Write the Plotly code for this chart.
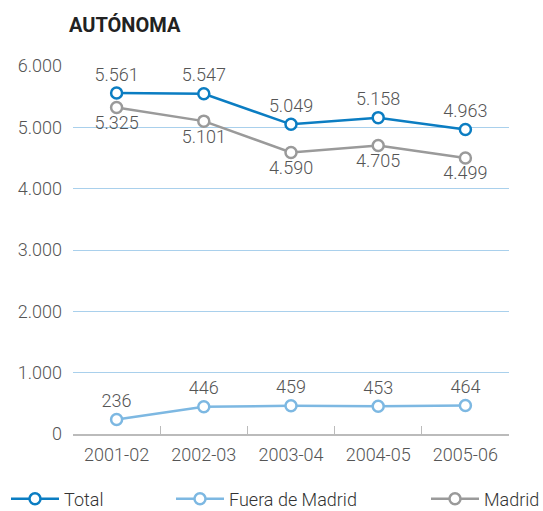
import plotly.graph_objects as go

years = ["2001-02", "2002-03", "2003-04", "2004-05", "2005-06"]
total = [5561, 5547, 5049, 5158, 4963]
fuera = [236, 446, 459, 453, 464]
madrid = [5325, 5101, 4590, 4705, 4499]

y_ticks = [0, 1000, 2000, 3000, 4000, 5000, 6000]
y_tick_labels = ["0", "1.000", "2.000", "3.000", "4.000", "5.000", "6.000"]


def fmt(v):
    return f"{v:,}".replace(",", ".")


FONT = "Roboto"
TXT = "#555555"


def series(name, values, color, pos, legend):
    return go.Scatter(
        x=years,
        y=values,
        name=name,
        mode="lines+markers+text",
        text=[fmt(v) for v in values],
        textposition=pos,
        textfont=dict(family=FONT, size=18, color=TXT, weight=300),
        line=dict(color=color, width=2.5),
        marker=dict(size=11, color="white", line=dict(color=color, width=2.5)),
        cliponaxis=False,
        legend=legend,
        showlegend=True,
    )


fig = go.Figure()
fig.add_trace(series("Madrid", madrid, "#9a9a9a", "bottom center", "legend3"))
fig.add_trace(series("Fuera de Madrid", fuera, "#7db8e2", "top center", "legend2"))
fig.add_trace(series("Total", total, "#0b7dc2", "top center", "legend"))

leg = dict(
    orientation="h",
    xref="container",
    yref="container",
    yanchor="middle",
    y=1 - 499 / 511,
    itemwidth=48,
    bgcolor="rgba(0,0,0,0)",
    font=dict(family=FONT, size=18, color="#333333", weight=300),
)

fig.update_layout(
    width=543,
    height=511,
    showlegend=True,
    margin=dict(l=73, r=34, t=66, b=77, autoexpand=False),
    paper_bgcolor="white",
    plot_bgcolor="white",
    font=dict(family=FONT, size=18, color=TXT),
    title=dict(
        text="<b>AUTÓNOMA</b>",
        font=dict(family=FONT, size=20, color="#222222"),
        x=69 / 543,
        xanchor="left",
        xref="container",
        y=1 - 25 / 511,
        yanchor="middle",
        yref="container",
        pad=dict(l=0, r=0, t=0, b=0),
    ),
    legend=dict(leg, x=6 / 543),
    legend2=dict(leg, x=171 / 543),
    legend3=dict(leg, x=426 / 543),
    xaxis=dict(
        type="category",
        range=[-0.5, 4.5],
        tickson="boundaries",
        ticks="inside",
        ticklen=8,
        tickcolor="#bbbbbb",
        showline=True,
        linecolor="#bbbbbb",
        linewidth=1.5,
        showgrid=False,
        automargin=False,
        tickfont=dict(family=FONT, size=18, color=TXT, weight=300),
        ticklabelstandoff=4,
    ),
    yaxis=dict(
        range=[0, 6000],
        tickvals=y_ticks,
        ticktext=y_tick_labels,
        showgrid=True,
        gridcolor="#a9d0ec",
        gridwidth=1.2,
        zeroline=False,
        ticks="",
        automargin=False,
        tickfont=dict(family=FONT, size=18, color=TXT, weight=300),
        ticklabelstandoff=10,
    ),
)

fig.write_html(
    "out.html",
    config={"displayModeBar": False},
    post_script="document.body.style.margin='0';",
)
